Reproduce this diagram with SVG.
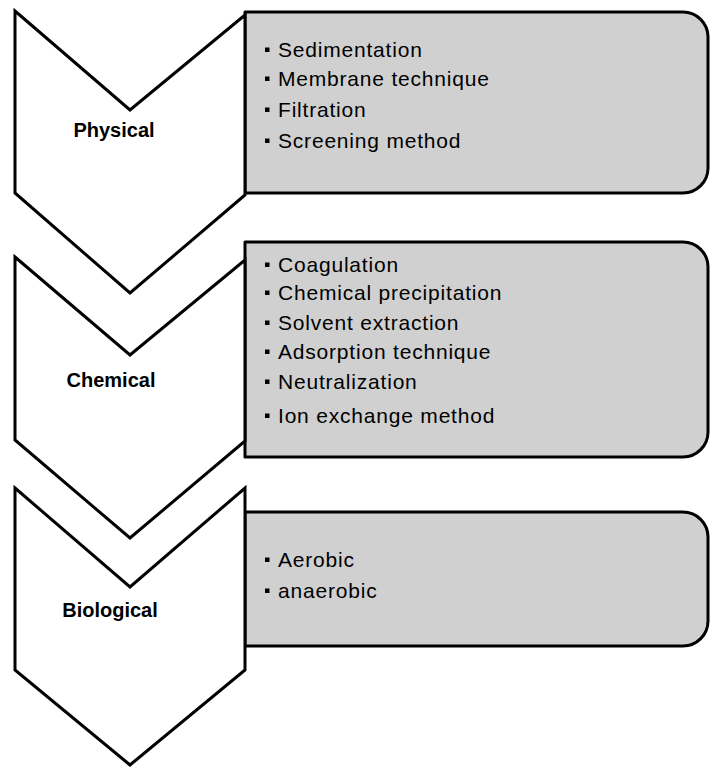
<svg xmlns="http://www.w3.org/2000/svg" width="710" height="767" viewBox="0 0 710 767">
<style>
.panel{fill:#d0d0d0;stroke:#000;stroke-width:3;stroke-linejoin:round}
.chev{fill:#fff;stroke:#000;stroke-width:3;stroke-linejoin:miter}
.lbl{font-family:"Liberation Sans",Arial,sans-serif;font-weight:bold;font-size:20px;fill:#000;text-anchor:middle}
.item{font-family:"Liberation Sans",Arial,sans-serif;font-size:21px;letter-spacing:0.8px;fill:#000}
.bul{fill:#000}
</style>
<rect width="710" height="767" fill="#fff"/>
<g id="panel-physical">
<path class="panel" d="M245,12 H683 A25,25 0 0 1 708,37 V168 A25,25 0 0 1 683,193 H245 Z"/>
<rect class="bul" x="265" y="47.5" width="4.5" height="4.5"/>
<text class="item" x="278" y="57">Sedimentation</text>
<rect class="bul" x="265" y="76.5" width="4.5" height="4.5"/>
<text class="item" x="278" y="86">Membrane technique</text>
<rect class="bul" x="265" y="107.5" width="4.5" height="4.5"/>
<text class="item" x="278" y="117">Filtration</text>
<rect class="bul" x="265" y="138.5" width="4.5" height="4.5"/>
<text class="item" x="278" y="148">Screening method</text>
</g>
<g id="panel-chemical">
<path class="panel" d="M245,242 H683 A25,25 0 0 1 708,267 V432 A25,25 0 0 1 683,457 H245 Z"/>
<rect class="bul" x="265" y="262.5" width="4.5" height="4.5"/>
<text class="item" x="278" y="272">Coagulation</text>
<rect class="bul" x="265" y="290.5" width="4.5" height="4.5"/>
<text class="item" x="278" y="300">Chemical precipitation</text>
<rect class="bul" x="265" y="320.5" width="4.5" height="4.5"/>
<text class="item" x="278" y="330">Solvent extraction</text>
<rect class="bul" x="265" y="349.5" width="4.5" height="4.5"/>
<text class="item" x="278" y="359">Adsorption technique</text>
<rect class="bul" x="265" y="379.5" width="4.5" height="4.5"/>
<text class="item" x="278" y="389">Neutralization</text>
<rect class="bul" x="265" y="413.5" width="4.5" height="4.5"/>
<text class="item" x="278" y="423">Ion exchange method</text>
</g>
<g id="panel-biological">
<path class="panel" d="M245,512 H683 A25,25 0 0 1 708,537 V621 A25,25 0 0 1 683,646 H245 Z"/>
<rect class="bul" x="265" y="557.5" width="4.5" height="4.5"/>
<text class="item" x="278" y="567">Aerobic</text>
<rect class="bul" x="265" y="588.5" width="4.5" height="4.5"/>
<text class="item" x="278" y="598">anaerobic</text>
</g>
<g id="chevron-physical">
<path class="chev" d="M15,11 L130,110 L245,15 V195 L130,293 L15,193 Z"/>
<text class="lbl" x="114" y="137">Physical</text>
</g>
<g id="chevron-chemical">
<path class="chev" d="M15,257 L130,355 L245,260 V441 L130,538 L15,440 Z"/>
<text class="lbl" x="111" y="387">Chemical</text>
</g>
<g id="chevron-biological">
<path class="chev" d="M15,488 L130,587 L245,488 V670 L130,765 L15,670 Z"/>
<text class="lbl" x="110" y="617">Biological</text>
</g>
<g id="connectors"></g>
</svg>
